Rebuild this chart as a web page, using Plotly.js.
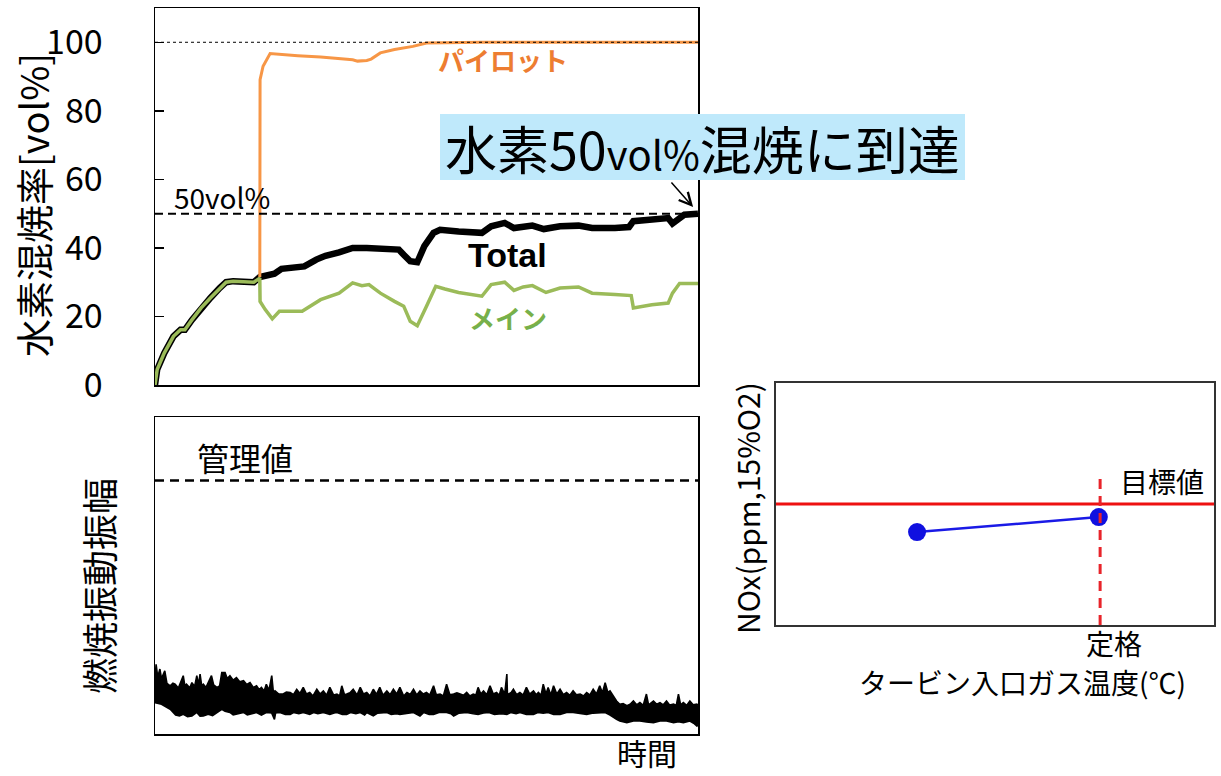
<!DOCTYPE html>
<html>
<head>
<meta charset="utf-8">
<script src="https://cdn.plot.ly/plotly-3.0.1.min.js"></script>
<style>html,body{margin:0;padding:0;background:#fff;}</style>
</head>
<body>
<div id="chart" style="width:1221px;height:776px;"></div>
<script>
// ---------- Top panel: hydrogen co-firing ratio [vol%] vs time ----------
const time_total = [0,0.4,1.7,3.4,4.7,5.5,6.8,8.5,10.2,11.9,13.1,14.4,16.9,18.2,19.3,20.3,22.0,23.3,25.4,27.5,29.7,31.4,33.9,36.4,39.0,41.5,44.9,45.8,47.0,48.3,49.6,51.3,52.5,55.9,60.2,61.9,64.4,66.1,67.8,69.5,71.6,74.6,78.0,80.5,84.7,87.3,88.1,91.5,94.5,95.3,96.2,97.5,100];
const total_pct  = [0,4.5,9.3,14.2,16.1,16.1,19.0,22.5,25.4,28.3,30.0,30.3,30.0,30.0,31.5,31.9,32.5,33.9,34.1,34.6,36.6,37.7,38.7,40.0,40.0,39.7,39.5,38.0,36.1,35.8,40.5,44.4,45.3,44.8,44.4,46.3,47.3,45.8,46.3,46.5,45.5,46.3,46.5,45.8,45.8,46.1,47.8,48.4,48.7,47.1,48.3,49.7,50.0];

const time_main = [0,0.4,1.7,3.4,4.7,5.5,6.8,8.5,10.2,11.9,13.1,14.4,16.9,18.2,19.3,19.35,20.3,21.6,22.9,27.1,30.5,33.9,36.4,38.1,39.4,41.5,44.1,45.8,47.0,48.3,50.0,51.7,53.4,55.9,60.2,61.9,64.4,66.1,67.8,69.5,72.0,74.6,78.0,80.5,84.7,87.7,88.1,91.5,94.5,95.3,96.6,100];
const main_pct  = [0,4.5,9.3,14.2,16.1,16.1,19.0,22.5,25.4,28.3,30.0,30.3,30.0,30.0,31.2,24.4,22.0,19.3,21.5,21.5,24.9,26.8,29.8,29.0,29.3,26.8,24.4,23.0,18.6,17.3,23.0,28.8,28.0,27.0,25.9,29.3,30.0,27.6,28.6,29.0,27.0,28.3,28.6,26.8,26.4,26.1,22.5,23.4,23.9,26.8,29.6,29.6];

const time_pilot = [19.3,19.35,19.9,21.2,26.3,30.5,36.4,37.3,39.0,39.8,41.5,44.1,47.5,50.0,60.0,70.0,80.0,90.0,100];
const pilot_pct  = [31.5,89.1,93.0,96.7,96.1,95.7,94.9,94.5,94.7,95.1,96.9,97.9,98.8,99.8,100,100,100,100,100];

const y_ticks = [0,20,40,60,80,100];
const line_50 = 50;
const line_100 = 100;

// ---------- Bottom panel: combustion oscillation amplitude ----------
const amp_time_upper = [0,0.2,0.5,0.9,1.2,1.8,2.2,2.8,3.3,3.7,4.3,5.2,5.5,5.8,6.4,6.8,7.3,7.7,8.0,8.3,8.6,8.9,9.4,9.8,10.4,10.8,11.4,11.9,12.3,12.9,13.3,13.8,14.4,15.0,15.6,16.3,16.9,17.5,18.1,18.7,19.2,19.6,20.1,20.5,21.0,21.5,21.8,22.1,22.8,23.6,24.2,24.9,25.5,26.1,26.7,27.3,27.9,28.5,29.1,29.8,30.4,31.0,31.6,32.2,32.9,33.5,34.0,34.4,34.9,35.3,35.9,36.5,37.2,37.8,38.4,39.0,39.6,40.2,40.8,41.4,42.0,42.7,43.3,43.9,44.5,45.1,45.8,46.4,47.0,47.6,48.2,48.8,49.4,50.0,50.6,51.3,51.8,52.5,53.1,53.7,54.3,55.0,55.6,56.2,56.8,57.4,58.0,58.6,59.1,59.5,60.0,60.5,61.1,61.7,62.3,62.9,63.4,63.8,64.4,64.8,64.95,65.1,65.6,66.0,66.6,67.2,67.8,68.4,69.0,69.7,70.2,70.6,71.1,71.5,72.0,72.4,72.9,73.4,74.0,74.6,75.2,75.8,76.4,77.0,77.6,78.3,78.9,79.5,80.1,80.7,81.3,81.9,82.4,82.9,83.4,83.8,84.4,85.0,85.6,86.2,86.9,87.5,88.1,88.7,89.3,89.9,90.5,90.9,91.8,92.4,93.0,93.6,94.2,94.8,95.5,96.0,96.4,96.8,97.3,97.9,98.5,99.1,99.8,100];
const amp_upper = [17,22,18,20.5,17.5,19.9,16,15.2,16,15.7,14.5,18.4,15.2,15.7,14.6,16.2,15,18.4,15.5,18.9,15.2,15.7,14.7,16.2,18.4,15.5,14.7,15.2,19.4,19.4,17.5,18.4,17,17.8,16.5,16.8,15.6,16.2,14.7,15.2,14.0,14.7,13.6,15.7,13.8,18.4,13.2,13.6,12.6,12.6,13.2,13.1,12.4,14.1,12.8,14.7,12.6,13.1,12.0,14.1,12.6,13.6,12.2,14.7,12.3,12.6,12.0,15.2,12.4,12.6,13.0,14.1,12.3,14.7,12.6,13.1,12.0,14.1,12.5,14.7,12.2,13.6,12.4,14.1,12.6,14.7,12.0,13.1,12.5,14.1,12.3,13.6,12.6,13.1,12.3,15.2,12.4,12.6,12.0,15.7,12.4,12.6,13.0,12.6,12.2,13.1,12.0,12.6,12.3,14.7,12.6,13.6,12.4,15.2,12.6,13.1,12.2,14.7,12.6,18.9,9.9,12.6,13.1,14.1,12.4,13.1,12.3,14.7,12.6,13.6,12.4,13.1,12.2,15.7,12.6,14.7,12.3,15.2,12.6,14.1,12.4,13.1,12.2,13.6,12.4,12.6,12.0,13.1,12.3,14.1,12.6,15.2,13.0,16.2,13.1,13.6,12.0,10.4,9.4,9.6,8.9,9.4,10.4,9.2,9.9,9.0,12.6,9.2,10.4,9.4,9.9,9.2,10.4,9.1,9.4,9.0,12.6,9.2,9.9,9.0,10.4,9.2,9.4,9.0];
const amp_time_lower = [0,1.2,2.8,3.8,4.5,5.2,6.0,6.8,7.7,8.3,8.9,9.8,10.6,11.4,12.3,12.9,13.8,14.4,15.0,15.8,16.3,17.0,17.5,18.2,18.7,19.6,20.5,21.5,22.0,22.2,23.0,24.0,24.9,25.5,26.5,27.3,28.5,29.2,30.0,31.0,32.2,33.0,33.5,34.5,35.3,36.0,37.0,37.8,38.6,39.0,40.2,41.0,42.7,43.5,44.5,45.1,46.4,47.6,48.8,49.5,50.5,51.3,52.3,53.7,54.5,55.0,56.0,57.4,58.6,59.5,60.5,61.5,62.5,63.8,64.8,65.5,66.5,67.2,68.4,69.7,70.5,71.5,72.4,73.4,74.6,75.8,77.0,78.3,79.5,80.7,81.9,82.9,83.8,84.4,85.0,85.6,86.9,88.1,89.3,90.5,91.8,93.0,94.2,95.5,96.4,97.3,98.5,99.2,99.8,100];
const amp_lower = [9.9,9.4,7.8,6.0,5.7,6.2,5.5,5.7,6.8,5.6,5.7,6.2,5.8,6.8,7.8,7.2,6.8,6.0,6.2,6.6,6.8,6.0,6.2,6.7,6.8,6.0,6.8,6.6,4.6,6.6,6.8,6.2,6.2,6.8,6.4,6.8,6.2,6.8,6.4,6.8,6.2,6.6,6.8,6.2,6.2,6.8,6.4,6.8,6.0,6.8,5.7,6.6,6.8,6.2,6.4,6.2,6.6,6.8,5.7,6.8,6.2,6.2,6.8,6.8,6.4,5.7,6.6,6.8,6.4,6.2,6.6,6.8,6.2,6.4,6.2,6.8,6.4,6.8,6.2,6.2,6.8,6.6,6.8,6.2,6.2,6.8,6.8,6.4,6.2,6.6,6.8,6.8,6.0,5.2,4.6,4.1,3.6,4.1,4.1,3.8,3.6,4.1,4.1,3.6,3.9,3.6,4.1,3.4,2.5,3.0];
const control_value = 80;

// ---------- Right panel: NOx vs turbine inlet gas temperature ----------
const nox_temp  = [32.2, 73.7];
const nox_value = [38.4, 44.6];
const nox_target = 50;
const rated_temp = 74;

// ---------- Texts ----------
const txt = {
  yTop: '水素混焼率[vol%]', yBottom: '燃焼振動振幅', xBottom: '時間',
  pilot: 'パイロット', total: 'Total', main: 'メイン', line50: '50vol%',
  control: '管理値', target: '目標値', rated: '定格',
  xRight: 'タービン入口ガス温度(℃)', yRight: 'NOx(ppm,15%O2)'
};

const W = 1221, H = 776;
const px = v => v / W;
const py = v => 1 - v / H;
const JP = 'Noto Sans CJK JP, Noto Sans, sans-serif';

const traces = [
  {x: time_total, y: total_pct, xaxis: 'x', yaxis: 'y', mode: 'lines', line: {color: '#000', width: 6.5}, hoverinfo: 'skip'},
  {x: time_main, y: main_pct, xaxis: 'x', yaxis: 'y', mode: 'lines', line: {color: '#9bbb59', width: 3.5}, hoverinfo: 'skip'},
  {x: time_pilot, y: pilot_pct, xaxis: 'x', yaxis: 'y', mode: 'lines', line: {color: '#f79646', width: 3}, hoverinfo: 'skip'},
  {x: amp_time_lower, y: amp_lower, xaxis: 'x2', yaxis: 'y2', mode: 'lines', line: {color: '#000', width: 1.6}, hoverinfo: 'skip'},
  {x: amp_time_upper, y: amp_upper, xaxis: 'x2', yaxis: 'y2', mode: 'lines', fill: 'tonexty', fillcolor: '#000', line: {color: '#000', width: 1.6}, hoverinfo: 'skip'},
  {x: nox_temp, y: nox_value, xaxis: 'x3', yaxis: 'y3', mode: 'lines+markers', line: {color: '#1a1ae6', width: 2.5}, marker: {color: '#1010e0', size: 18}, hoverinfo: 'skip'}
];

const frame = {showline: true, mirror: true, linecolor: '#000', linewidth: 1.5, showgrid: false, zeroline: false};

function ann(x, y, text, size, extra) {
  return Object.assign({xref: 'paper', yref: 'paper', x: px(x), y: py(y), xanchor: 'center', yanchor: 'middle', text: text, showarrow: false, font: {family: JP, size: size, color: '#000'}}, extra || {});
}

const layout = {
  width: W, height: H,
  margin: {l: 0, r: 0, t: 0, b: 0},
  paper_bgcolor: '#fff', plot_bgcolor: '#fff',
  showlegend: false,
  font: {family: JP, color: '#000'},
  xaxis: Object.assign({}, frame, {anchor: 'y', domain: [px(155), px(698)], range: [0, 100], showticklabels: false, ticks: ''}),
  yaxis: Object.assign({}, frame, {anchor: 'x', domain: [py(385), py(8)], range: [0, 110], tickvals: y_ticks, ticks: 'inside', ticklen: 9, tickwidth: 1.5, tickcolor: '#000', ticklabelstandoff: 44, tickfont: {family: JP, size: 34, color: '#000'}}),
  xaxis2: Object.assign({}, frame, {anchor: 'y2', domain: [px(155), px(698)], range: [0, 100], showticklabels: false, ticks: ''}),
  yaxis2: Object.assign({}, frame, {anchor: 'x2', domain: [py(734), py(417)], range: [0, 100], tickvals: [control_value], ticktext: [''], ticks: 'inside', ticklen: 9, tickwidth: 1.5, tickcolor: '#000'}),
  xaxis3: Object.assign({}, frame, {anchor: 'y3', domain: [px(776), px(1214)], range: [0, 100], showticklabels: false, ticks: '', linecolor: '#333', linewidth: 2}),
  yaxis3: Object.assign({}, frame, {anchor: 'x3', domain: [py(625), py(383)], range: [0, 100], showticklabels: false, ticks: '', linecolor: '#333', linewidth: 2}),
  shapes: [
    {type: 'line', xref: 'x', yref: 'y', x0: 0, x1: 100, y0: line_50, y1: line_50, line: {color: '#000', width: 2, dash: '8px,5px'}, layer: 'above'},
    {type: 'line', xref: 'x', yref: 'y', x0: 0, x1: 100, y0: line_100, y1: line_100, line: {color: '#000', width: 1, dash: 'dot'}, layer: 'above'},
    {type: 'line', xref: 'x2', yref: 'y2', x0: 0, x1: 100, y0: control_value, y1: control_value, line: {color: '#000', width: 2.5, dash: '9px,6px'}},
    {type: 'line', xref: 'x3', yref: 'y3', x0: 0, x1: 100, y0: nox_target, y1: nox_target, line: {color: '#ee1111', width: 3}},
    {type: 'line', xref: 'x3', yref: 'y3', x0: rated_temp, x1: rated_temp, y0: 0, y1: 62.8, line: {color: '#e8242a', width: 3, dash: '10px,7px'}},
    {type: 'rect', xref: 'paper', yref: 'paper', x0: px(440), x1: px(965), y0: py(180), y1: py(114), fillcolor: '#bfe9fb', line: {width: 0}, layer: 'above'}
  ],
  annotations: [
    ann(33, 205, txt.yTop, 38, {textangle: -90}),
    ann(98, 586, txt.yBottom, 36, {textangle: -90}),
    ann(647, 776, txt.xBottom, 30, {yanchor: 'bottom'}),
    {xref: 'x', yref: 'y', x: 3.1, y: 54.8, xanchor: 'left', yanchor: 'middle', text: txt.line50, showarrow: false, font: {family: JP, size: 28, color: '#000'}},
    {xref: 'x', yref: 'y', x: 64.1, y: 94.9, xanchor: 'center', yanchor: 'middle', text: '<b>' + txt.pilot + '</b>', showarrow: false, font: {family: JP, size: 26, color: '#ed7d31'}},
    {xref: 'x', yref: 'y', x: 65.0, y: 37.8, xanchor: 'center', yanchor: 'middle', text: '<b>' + txt.total + '</b>', showarrow: false, font: {family: 'Liberation Sans, Arial, sans-serif', size: 34, color: '#000'}},
    {xref: 'x', yref: 'y', x: 65.0, y: 19.6, xanchor: 'center', yanchor: 'middle', text: '<b>' + txt.main + '</b>', showarrow: false, font: {family: JP, size: 26, color: '#77b04a'}},
    {xref: 'x2', yref: 'y2', x: 16.6, y: 87.3, xanchor: 'center', yanchor: 'middle', text: txt.control, showarrow: false, font: {family: JP, size: 32, color: '#000'}},
    {xref: 'x3', yref: 'y3', x: 78.1, y: 59.5, xanchor: 'left', yanchor: 'middle', text: txt.target, showarrow: false, font: {family: JP, size: 28, color: '#000'}},
    ann(1114, 643, txt.rated, 28),
    ann(1022, 682, txt.xRight, 28),
    ann(747, 508, txt.yRight, 30, {textangle: -90}),
    ann(702, 147, '水素50<span style="font-size:40px">vol%</span>混焼に到達', 52),
    {xref: 'x', yref: 'y', x: 99.1, y: 51.9, ax: -23, ay: -26, text: '', showarrow: true, arrowhead: 5, arrowsize: 1.6, arrowwidth: 1.5, arrowcolor: '#000'}
  ]
};

Plotly.newPlot('chart', traces, layout, {staticPlot: true, displayModeBar: false});
</script>
</body>
</html>
